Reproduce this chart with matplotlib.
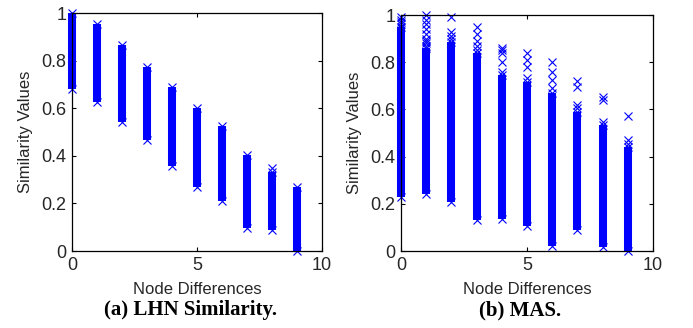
import matplotlib
matplotlib.use("Agg")
import matplotlib.pyplot as plt

# Node differences (x positions)
node_diff = [0, 1, 2, 3, 4, 5, 6, 7, 8, 9]

# (a) LHN Similarity: range of values at each node difference
lhn_top = [1.00, 0.955, 0.867, 0.775, 0.688, 0.60, 0.525, 0.403, 0.333, 0.27]
lhn_bottom = [0.68, 0.624, 0.543, 0.466, 0.358, 0.27, 0.209, 0.097, 0.087, 0.0]
lhn_extra = [[], [], [], [], [], [], [], [], [0.35], []]

# (b) MAS: dense range plus sparse upper values
mas_top = [0.95, 0.86, 0.887, 0.837, 0.745, 0.717, 0.668, 0.59, 0.533, 0.44]
mas_bottom = [0.23, 0.243, 0.208, 0.13, 0.137, 0.106, 0.02, 0.09, 0.017, 0.0]
mas_extra = [
    [0.96, 0.97, 0.98, 0.99],
    [0.87, 0.88, 0.89, 0.90, 0.92, 0.94, 0.96, 0.98, 1.00],
    [0.90, 0.91, 0.93, 0.99],
    [0.85, 0.87, 0.89, 0.92, 0.95],
    [0.76, 0.80, 0.84, 0.85, 0.86],
    [0.735, 0.78, 0.81, 0.837],
    [0.69, 0.724, 0.76, 0.80],
    [0.604, 0.62, 0.696, 0.72],
    [0.547, 0.64, 0.653],
    [0.455, 0.47, 0.571],
]

xticks = [0, 5, 10]
yticks = [0, 0.2, 0.4, 0.6, 0.8, 1]
yticklabels = ["0", "0.2", "0.4", "0.6", "0.8", "1"]
captions = ["(a) LHN Similarity.", "(b) MAS."]

plt.rcParams["font.family"] = ["Liberation Sans", "DejaVu Sans"]
BLUE = "#0000ff"
TXT = "#262626"

fig = plt.figure(figsize=(6.93, 3.28), dpi=100)
axes_pos = [
    [72 / 693, 1 - 251 / 328, 250 / 693, 238 / 328],
    [401 / 693, 1 - 251 / 328, 252 / 693, 236 / 328],
]
cap_x = [190 / 693, 520 / 693]

datasets = [(lhn_top, lhn_bottom, lhn_extra), (mas_top, mas_bottom, mas_extra)]
mk = dict(ls="none", marker="x", ms=6, mew=0.8, color=BLUE, zorder=4,
          clip_on=False)

for i, (tops, bots, extras) in enumerate(datasets):
    ax = fig.add_axes(axes_pos[i])
    ax.vlines(node_diff, bots, tops, color=BLUE, lw=5.8, zorder=3,
              clip_on=False)
    ax.plot(node_diff, tops, **mk)
    ax.plot(node_diff, bots, **mk)
    for x, vals in zip(node_diff, extras):
        if vals:
            ax.plot([x] * len(vals), vals, **mk)
    ax.set_xlim(0, 10)
    ax.set_ylim(0, 1)
    ax.set_xticks(xticks)
    ax.set_yticks(yticks)
    ax.set_yticklabels(yticklabels)
    ax.tick_params(direction="in", length=3, width=0.8, top=True, right=True,
                   labelsize=13, colors="black", labelcolor=TXT, pad=4)
    for s in ax.spines.values():
        s.set_linewidth(0.9)
        s.set_color("black")
        s.set_zorder(5)
    ax.set_xlabel("Node Differences", fontsize=12, color=TXT, labelpad=6)
    ax.set_ylabel("Similarity Values", fontsize=12, color=TXT, labelpad=6)
    fig.text(cap_x[i], 1 - 310 / 328, captions[i], ha="center", va="center",
             fontsize=15, fontweight="bold", family="Liberation Serif")

fig.savefig("out.png", dpi=100)
